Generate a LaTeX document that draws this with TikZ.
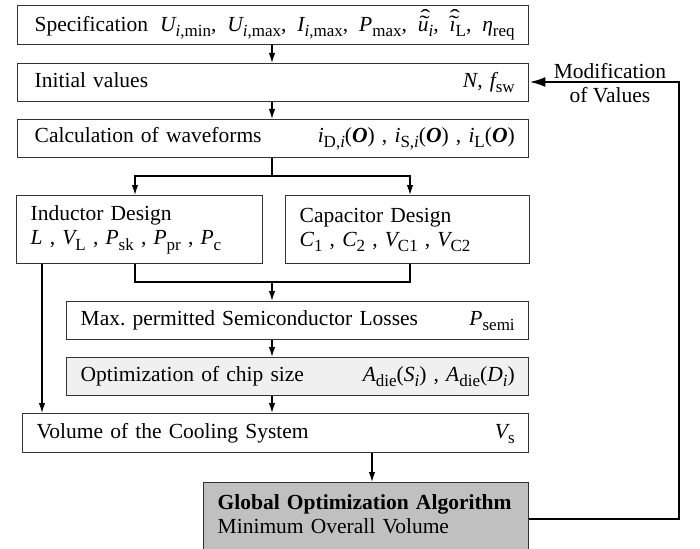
\documentclass[tikz,border=0pt]{standalone}
\usepackage{fontspec}
\usepackage{graphicx}
\setmainfont{Liberation Serif}
\usetikzlibrary{arrows.meta,calc}
\newcommand\sbs[1]{\raisebox{-0.25em}{\fontsize{17}{17}\selectfont #1}}
\newcommand\mi[1]{{\itshape #1}}
\newcommand\bo[1]{{\bfseries\itshape #1}}
\newcommand\hatt[1]{\setbox0\hbox{\itshape #1}%
  \rlap{\hbox to\wd0{\hss\hspace{3pt}\raisebox{0.05em}{\scalebox{1.4}[1]{˜}}\hss}}%
  \rlap{\hbox to\wd0{\hss\hspace{4.5pt}\raisebox{0.3em}{\scalebox{1.4}[1]{ˆ}}\hss}}\box0}
\definecolor{boxc}{HTML}{333333}
\definecolor{lightg}{HTML}{F0F0F0}
\definecolor{darkg}{HTML}{C0C0C0}
\begin{document}
\begin{tikzpicture}[x=1pt,y=-1pt,
  box/.style={draw=boxc, line width=1.4pt, rectangle, inner xsep=14pt, inner ysep=0pt,
    align=left, font=\fontsize{21.5}{24}\selectfont\frenchspacing, anchor=north west},
  arr/.style={line width=1.3pt, -{Latex[length=10pt,width=6.5pt]}},
  ln/.style={line width=1.3pt},
  fb/.style={line width=2.2pt, -{Latex[length=16pt,width=10pt]}}]
\useasboundingbox (0,0) rectangle (700,548);
\node[box, minimum height=39pt, text width=483pt] (spec) at (17,5)
  {\hbox to \hsize{\hspace*{3pt}Specification\hspace{12pt}\mi{U}\sbs{\mi{i},min},\hfill \mi{U}\sbs{\mi{i},max},\hfill \mi{I}\sbs{\mi{i},max},\hfill \mi{P}\sbs{max},\hfill \hatt{u}\sbs{\mi{i}},\hfill \hatt{ı}\sbs{L},\hfill \mi{η}\sbs{req}}};
\node[box, minimum height=38pt, text width=483pt] (init) at (17,63)
  {\hbox to \hsize{\hspace*{3pt}Initial values\hfill \mi{N}, \mi{f}\sbs{sw}}};
\node[box, minimum height=38pt, text width=483pt] (calc) at (17,119)
  {\hbox to \hsize{\hspace*{3pt}Calculation of waveforms\hfill \mi{i}\sbs{D,\mi{i}}(\bo{O}) , \mi{i}\sbs{S,\mi{i}}(\bo{O}) , \mi{i}\sbs{L}(\bo{O})}};
\node[box, minimum height=68pt, text width=218pt] (ind) at (16,195)
  {Inductor Design\\ \mi{L} , \mi{V}\sbs{L} , \mi{P}\sbs{sk} , \mi{P}\sbs{pr} , \mi{P}\sbs{c}};
\node[box, minimum height=68pt, text width=216pt] (cap) at (285,195)
  {Capacitor Design\\ \mi{C}\sbs{1} , \mi{C}\sbs{2} , \mi{V}\sbs{C1} , \mi{V}\sbs{C2}};
\node[box, minimum height=38pt, text width=434pt] (max) at (66,301)
  {\hbox to \hsize{Max. permitted Semiconductor Losses\hfill \mi{P}\sbs{semi}}};
\node[box, fill=lightg, minimum height=38pt, text width=434pt] (opt) at (66,357)
  {\hbox to \hsize{Optimization of chip size\hfill \mi{A}\sbs{die}(\mi{S}\sbs{\mi{i}}) , \mi{A}\sbs{die}(\mi{D}\sbs{\mi{i}})}};
\node[box, minimum height=39pt, text width=478pt] (vol) at (22,413)
  {\hbox to \hsize{Volume of the Cooling System\hfill \mi{V}\sbs{s}}};
\node[box, fill=darkg, minimum height=80pt, text width=297pt, inner ysep=12pt] (glob) at (203,482)
  {\textbf{Global Optimization Algorithm}\\ Minimum Overall Volume\\ \strut};
\node[font=\fontsize{21.5}{24}\selectfont, align=center] (mod) at (610,83) {Modification\\of Values};
% connectors
\coordinate (split) at (272,176);
\coordinate (join) at (272,282);
\draw[arr] (spec.south -| 272,0) -- (init.north -| 272,0);
\draw[arr] (init.south -| 272,0) -- (calc.north -| 272,0);
\draw[ln] (calc.south -| split) -- (split);
\draw[arr] (split) -| (ind.north -| 135,0);
\draw[arr] (split) -| (cap.north -| 410,0);
\draw[ln] (ind.south -| 135,0) |- (join);
\draw[ln] (cap.south -| 410,0) |- (join);
\draw[arr] (join) -- (max.north -| join);
\draw[arr] (max.south -| join) -- (opt.north -| join);
\draw[arr] (opt.south -| join) -- (vol.north -| join);
\draw[arr] (ind.south -| 42,0) -- (vol.north -| 42,0);
\draw[arr] (vol.south -| 372,0) -- (glob.north -| 372,0);
\draw[fb] (glob.east |- 0,519) -| (679,82) -- (init.east |- 0,82);
\end{tikzpicture}
\end{document}
